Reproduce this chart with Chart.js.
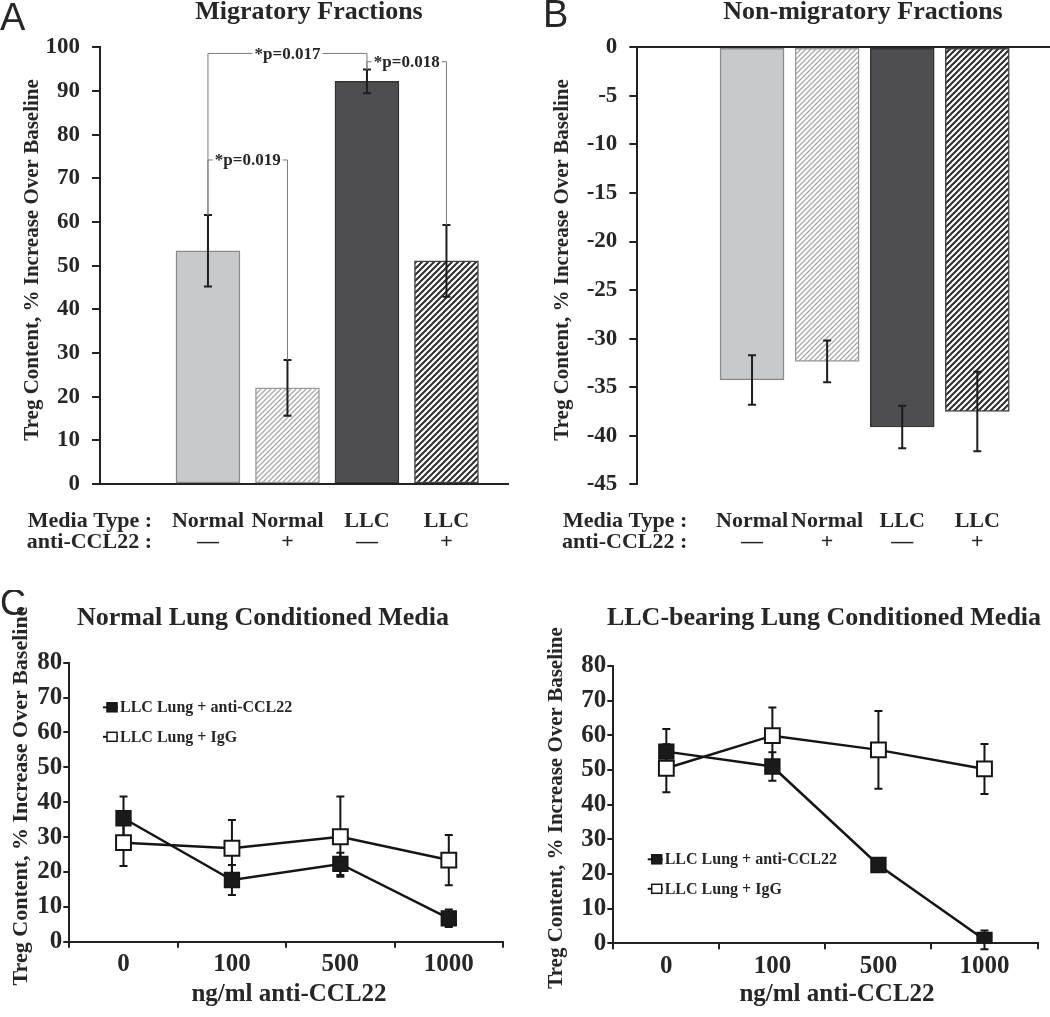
<!DOCTYPE html>
<html>
<head>
<meta charset="utf-8">
<script src="https://cdn.jsdelivr.net/npm/chart.js@4.4.1/dist/chart.umd.min.js"></script>
<style>
  html, body { margin: 0; padding: 0; background: #fff; }
  #wrap { position: relative; width: 1050px; height: 1017px; overflow: hidden; background: #fff; }
  canvas { position: absolute; }
</style>
</head>
<body>
<div id="wrap">
  <canvas id="panelA" width="525" height="560" style="left:0;top:0"></canvas>
  <canvas id="panelB" width="525" height="560" style="left:525px;top:0"></canvas>
  <canvas id="panelCL" width="525" height="427" style="left:0;top:590px"></canvas>
  <canvas id="panelCR" width="525" height="427" style="left:525px;top:590px"></canvas>
</div>
<script>
'use strict';

// bar panels A and B
var mediaTypes = ['Normal', 'Normal', 'LLC', 'LLC'];
var antiCCL22Signs = ['\u2014', '+', '\u2014', '+'];
var migratoryMeans = [53.4, 22.0, 92.2, 51.1];
var migratoryErrors = [8.2, 6.4, 2.7, 8.2];
var nonMigratoryMeans = [-34.25, -32.35, -39.1, -37.5];
var nonMigratoryErrors = [2.55, 2.15, 2.2, 4.1];
var migratoryTicks = { min: 0, max: 100, step: 10 };
var nonMigratoryTicks = { min: -45, max: 0, step: 5 };

// p-value brackets on panel A (bar indices, bracket level in %)
var sigFrom = [0, 0, 2];
var sigTo = [2, 1, 3];
var sigLevel = [98.6, 74.2, 96.7];
var sigLabels = ['*p=0.017', '*p=0.019', '*p=0.018'];

// dose response panels C
var doseLabels = ['0', '100', '500', '1000'];
var normalAnti = [35.4, 17.7, 22.3, 6.7];
var normalAntiErr = [6.2, 4.3, 3.2, 2.5];
var normalIgG = [28.4, 26.8, 30.1, 23.4];
var normalIgGErr = [6.7, 8.1, 11.5, 7.2];
var llcAnti = [55.3, 51.0, 22.6, 1.0];
var llcAntiErr = [6.5, 4.1, 1.5, 2.7];
var llcIgG = [50.5, 59.9, 55.8, 50.3];
var llcIgGErr = [6.9, 8.1, 11.2, 7.2];
var seriesNames = ['LLC Lung + anti-CCL22', 'LLC Lung + IgG'];

var SERIF = '"Liberation Serif", "Times New Roman", serif';
var INK = '#262626';

function hatch(color, lineWidth, step) {
  var c = document.createElement('canvas');
  c.width = step; c.height = step;
  var g = c.getContext('2d');
  g.fillStyle = '#fff';
  g.fillRect(0, 0, step, step);
  g.strokeStyle = color;
  g.lineWidth = lineWidth;
  g.beginPath();
  g.moveTo(0, step); g.lineTo(step, 0);
  g.moveTo(-step / 2, step / 2); g.lineTo(step / 2, -step / 2);
  g.moveTo(step / 2, step * 1.5); g.lineTo(step * 1.5, step / 2);
  g.stroke();
  return g.createPattern(c, 'repeat');
}

var barFills = ['#c8c9cb', hatch('#a9a9a9', 1.3, 5), '#4e4e50', hatch('#2c2c2c', 2, 6)];
var barBorders = ['#8a8a8a', '#9a9a9a', '#333', '#444'];

function text(ctx, str, x, y, font, align, baseline, rot) {
  ctx.save();
  ctx.font = font;
  ctx.fillStyle = INK;
  ctx.textAlign = align || 'center';
  ctx.textBaseline = baseline || 'alphabetic';
  ctx.translate(x, y);
  if (rot) ctx.rotate(rot);
  ctx.fillText(str, 0, 0);
  ctx.restore();
}

function bold(size) { return 'bold ' + size + 'px ' + SERIF; }

function errorBar(ctx, x, yTop, yBot, cap) {
  ctx.beginPath();
  ctx.moveTo(x, yTop); ctx.lineTo(x, yBot);
  ctx.moveTo(x - cap, yTop); ctx.lineTo(x + cap, yTop);
  ctx.moveTo(x - cap, yBot); ctx.lineTo(x + cap, yBot);
  ctx.stroke();
}

// decorations for the bar panels: error bars, labels, titles
function barDecor(cfg) {
  return {
    id: 'barDecor',
    afterDatasetsDraw: function(chart) {
      var ctx = chart.ctx, xs = chart.scales.x, ys = chart.scales.y;
      ctx.save();
      ctx.strokeStyle = '#1e1e1e';
      ctx.lineWidth = 2;
      cfg.means.forEach(function(m, i) {
        var x = xs.getPixelForValue(i + 1);
        errorBar(ctx, x, ys.getPixelForValue(m + cfg.errors[i]), ys.getPixelForValue(m - cfg.errors[i]), 4);
      });
      ctx.restore();

      if (cfg.brackets) {
        ctx.save();
        ctx.strokeStyle = '#7a7a7a';
        ctx.lineWidth = 1;
        sigLabels.forEach(function(lbl, k) {
          var a = sigFrom[k], b = sigTo[k];
          var xa = xs.getPixelForValue(a + 1), xb = xs.getPixelForValue(b + 1);
          var yl = ys.getPixelForValue(sigLevel[k]);
          ctx.beginPath();
          ctx.moveTo(xa, ys.getPixelForValue(cfg.means[a] + cfg.errors[a]));
          ctx.lineTo(xa, yl);
          ctx.lineTo(xb, yl);
          ctx.lineTo(xb, ys.getPixelForValue(cfg.means[b] + cfg.errors[b]));
          ctx.stroke();
          ctx.font = bold(17);
          var w = ctx.measureText(lbl).width;
          var cx = (xa + xb) / 2;
          ctx.fillStyle = '#fff';
          ctx.fillRect(cx - w / 2 - 2, yl - 7, w + 4, 14);
          text(ctx, lbl, cx, yl + 1, bold(17), 'center', 'middle');
        });
        ctx.restore();
      }
    },
    afterDraw: function(chart) {
      var ctx = chart.ctx, xs = chart.scales.x;
      var ax = chart.chartArea.left;
      text(ctx, cfg.letter, cfg.letterX, cfg.letterY, '38px "Liberation Sans", Arial, sans-serif', 'left');
      text(ctx, cfg.title, cfg.titleX, 19, bold(26), 'center');
      text(ctx, 'Treg Content, % Increase Over Baseline', cfg.yTitleX, 260, bold(21), 'center', 'middle', -Math.PI / 2);
      text(ctx, 'Media Type :', ax + cfg.rowEnd, 527, bold(22), 'right');
      text(ctx, 'anti-CCL22 :', ax + cfg.rowEnd, 548, bold(22), 'right');
      mediaTypes.forEach(function(m, i) {
        var x = xs.getPixelForValue(i + 1);
        text(ctx, m, x, 527, bold(22), 'center');
        text(ctx, antiCCL22Signs[i], x, 548, bold(22), 'center');
      });
    }
  };
}

// decorations for the dose panels: error bars, legend, titles
function lineDecor(cfg) {
  return {
    id: 'lineDecor',
    beforeDatasetsDraw: function(chart) {
      var ctx = chart.ctx, xs = chart.scales.x, ys = chart.scales.y;
      ctx.save();
      ctx.strokeStyle = '#151515';
      ctx.lineWidth = 2;
      chart.data.datasets.forEach(function(ds) {
        ds.data.forEach(function(v, i) {
          var x = xs.getPixelForValue(i);
          errorBar(ctx, x, ys.getPixelForValue(v + ds.errors[i]), ys.getPixelForValue(v - ds.errors[i]), 4);
        });
      });
      ctx.restore();
    },
    afterDraw: function(chart) {
      var ctx = chart.ctx;
      if (cfg.letter) text(ctx, cfg.letter, 0, 25, '36px "Liberation Sans", Arial, sans-serif', 'left');
      text(ctx, cfg.title, cfg.titleX, 35, bold(26), 'center');
      text(ctx, 'Treg Content, % Increase Over Baseline', cfg.yTitleX, cfg.yTitleY, bold(cfg.yTitleSize), 'center', 'middle', -Math.PI / 2);
      text(ctx, 'ng/ml anti-CCL22', cfg.xTitleX, 405, bold(25), 'center', 'middle');
      chart.data.datasets.forEach(function(ds, k) {
        var mx = cfg.legendX, my = cfg.legendY + k * 29.5;
        ctx.save();
        ctx.strokeStyle = '#151515';
        ctx.lineWidth = 2;
        ctx.beginPath();
        ctx.moveTo(mx - 9, my); ctx.lineTo(mx + 6, my);
        ctx.stroke();
        ctx.fillStyle = ds.pointBackgroundColor;
        ctx.fillRect(mx - 5, my - 4.5, 10, 9);
        ctx.lineWidth = 1.5;
        ctx.strokeRect(mx - 5, my - 4.5, 10, 9);
        ctx.restore();
        text(ctx, ds.label, mx + 8, my + 1, bold(16), 'left', 'middle');
      });
    }
  };
}

function barChart(id, means, errors, ticks, opts) {
  return new Chart(document.getElementById(id), {
    type: 'bar',
    data: {
      datasets: [{
        data: means.map(function(v, i) { return { x: i + 1, y: v }; }),
        backgroundColor: barFills,
        borderColor: barBorders,
        borderWidth: 1.5,
        borderSkipped: false,
        barThickness: 64
      }]
    },
    options: {
      responsive: false,
      animation: false,
      layout: { padding: { left: 0, top: 47.3, right: opts.padRight, bottom: opts.padBottom } },
      plugins: { legend: { display: false }, tooltip: { enabled: false } },
      scales: {
        x: {
          type: 'linear',
          position: opts.xPos,
          min: opts.xMin,
          max: opts.xMax,
          ticks: { display: false },
          grid: { display: false },
          border: { color: '#222', width: 2 },
          afterFit: function(s) { s.height = 0; }
        },
        y: {
          min: ticks.min,
          max: ticks.max,
          ticks: { stepSize: ticks.step, color: INK, padding: 12, font: { family: SERIF, size: 23, weight: 'bold' } },
          grid: { drawOnChartArea: false, tickLength: 8, color: '#222', lineWidth: 2 },
          border: { color: '#222', width: 2 },
          afterFit: function(s) { s.width = opts.axisX; }
        }
      }
    },
    plugins: [barDecor({
      means: means, errors: errors, brackets: opts.brackets,
      letter: opts.letter, letterX: opts.letterX, letterY: opts.letterY,
      title: opts.title, titleX: opts.titleX, yTitleX: opts.yTitleX, rowEnd: opts.rowEnd
    })]
  });
}

function doseChart(id, anti, antiErr, igg, iggErr, opts) {
  return new Chart(document.getElementById(id), {
    type: 'line',
    data: {
      labels: doseLabels,
      datasets: [
        {
          label: seriesNames[0], data: anti, errors: antiErr,
          borderColor: '#151515', borderWidth: 2.5,
          pointStyle: 'rect', pointRadius: 10.5,
          pointBackgroundColor: '#1a1a1a', pointBorderColor: '#151515', pointBorderWidth: 1.5
        },
        {
          label: seriesNames[1], data: igg, errors: iggErr,
          borderColor: '#151515', borderWidth: 2.5,
          pointStyle: 'rect', pointRadius: 10.5,
          pointBackgroundColor: '#ffffff', pointBorderColor: '#151515', pointBorderWidth: 2
        }
      ]
    },
    options: {
      responsive: false,
      animation: false,
      layout: { padding: { left: 0, top: opts.top, right: opts.padRight, bottom: 0 } },
      plugins: { legend: { display: false }, tooltip: { enabled: false } },
      scales: {
        x: {
          offset: true,
          ticks: { color: INK, padding: 2, font: { family: SERIF, size: 25, weight: 'bold' } },
          grid: { offset: true, drawOnChartArea: false, tickLength: 6, color: '#222', lineWidth: 2 },
          border: { color: '#222', width: 2 },
          afterFit: function(s) { s.height = opts.xHeight; }
        },
        y: {
          min: 0, max: 80,
          ticks: { stepSize: 10, color: INK, padding: 1, font: { family: SERIF, size: 25, weight: 'bold' } },
          grid: { drawOnChartArea: false, tickLength: 6, color: '#222', lineWidth: 2 },
          border: { color: '#222', width: 2 },
          afterFit: function(s) { s.width = opts.axisX; }
        }
      }
    },
    plugins: [lineDecor(opts)]
  });
}

barChart('panelA', migratoryMeans, migratoryErrors, migratoryTicks, {
  xPos: 'bottom', xMin: -0.073, xMax: 4.489, padRight: 17, padBottom: 76, axisX: 100,
  brackets: true, letter: 'A', letterX: 0, letterY: 30,
  title: 'Migratory Fractions', titleX: 309, yTitleX: 33, rowEnd: 52
});

barChart('panelB', nonMigratoryMeans, nonMigratoryErrors, nonMigratoryTicks, {
  xPos: 'top', xMin: -0.07, xMax: 4.51, padRight: 0, padBottom: 75.7, axisX: 112.3,
  brackets: false, letter: 'B', letterX: 18, letterY: 27,
  title: 'Non-migratory Fractions', titleX: 338, yTitleX: 38, rowEnd: 50
});

doseChart('panelCL', normalAnti, normalAntiErr, normalIgG, normalIgGErr, {
  top: 72.7, padRight: 22, xHeight: 75.3, axisX: 69.3, letter: 'C',
  title: 'Normal Lung Conditioned Media', titleX: 263, yTitleSize: 22,
  yTitleX: 21.7, yTitleY: 206, xTitleX: 289, legendX: 112, legendY: 117.3
});

doseChart('panelCR', llcAnti, llcAntiErr, llcIgG, llcIgGErr, {
  top: 76, padRight: 2, xHeight: 73.7, axisX: 88.3, letter: null,
  title: 'LLC-bearing Lung Conditioned Media', titleX: 299, yTitleSize: 21,
  yTitleX: 31.7, yTitleY: 218, xTitleX: 312, legendX: 131.7, legendY: 269.3
});
</script>
</body>
</html>
